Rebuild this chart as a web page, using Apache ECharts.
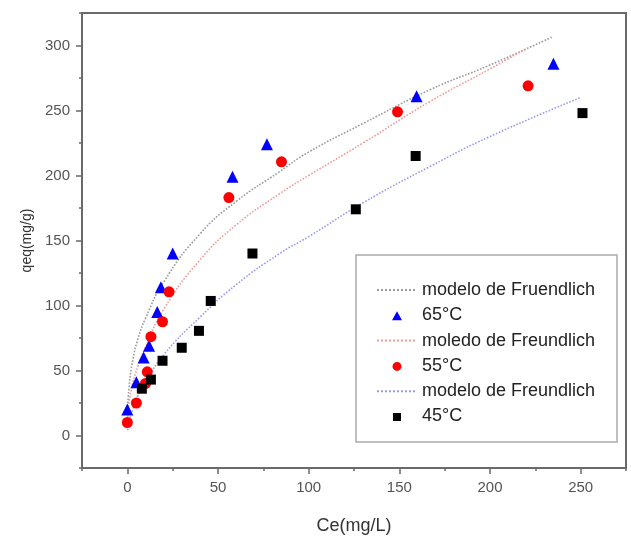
<!DOCTYPE html>
<html>
<head>
    <meta charset="UTF-8">
    <title>Freundlich</title>
    <style>
        html, body {
            margin: 0;
            padding: 0;
            background: #fff;
        }

        #chart {
            width: 631px;
            height: 536px;
        }
    </style>
    <script type="text/javascript" src="https://cdn.jsdelivr.net/npm/echarts@6/dist/echarts.min.js"></script>
</head>
<body>
<div id="chart"></div>
<script>
    // measured points (Ce, qeq)
    let data65 = [[0, 20], [5, 41], [9, 60], [12, 69], [16.5, 95], [18.5, 114], [25, 140],
        [58, 199], [77, 224], [159.5, 261], [235, 286]];
    let data55 = [[0, 10], [5, 25], [10, 40], [11, 49], [13, 76], [19.4, 87.5], [23, 110.5],
        [56, 183], [85, 210.5], [149, 249], [221, 269]];
    let data45 = [[8, 36], [13, 43], [19.4, 57.5], [30, 67.5], [39.5, 80.5], [46, 103.5],
        [69, 140], [126, 174], [159, 215], [251, 248]];

    // fitted curves
    let fit65 = [[0.2, 20], [1, 38], [3, 58], [6, 75], [10, 90], [20, 118], [40, 155], [60, 180],
        [84, 203], [100, 218], [130, 240], [167, 266], [200, 285], [235, 307]];
    let fit55 = [[0.2, 12], [1, 25], [3, 40], [6, 54], [10, 68], [20, 97], [40, 135], [60, 162],
        [84, 186], [100, 200], [130, 225], [167, 257], [200, 282], [220.5, 298]];
    let fit45 = [[0.2, 4], [1, 11], [3, 20], [6, 31], [10, 41], [20, 62], [40, 91], [60, 116],
        [84, 140], [100, 153], [130, 179], [167, 207], [200, 230], [250, 260]];

    let legendNames = ['modelo de Fruendlich', '65°C', 'moledo de Freundlich', '55°C',
        'modelo de Freundlich', '45°C'];
    let xTicks = [0, 50, 100, 150, 200, 250];
    let yTicks = [0, 50, 100, 150, 200, 250, 300];

    let chart = echarts.init(document.getElementById('chart'), null, {renderer: 'canvas'});

    let font = 'Liberation Sans, Arial, sans-serif';
    let axisGray = '#6a6a6a';

    // legend icons: 40x12 box so the marker keeps its own size
    let box = 'M0,0 L0.1,0 L0,0.1 Z M40,12 L39.9,12 L40,11.9 Z';
    let iconTri = 'path://' + box + ' M15,11 L20,2 L25,11 Z';
    let iconDot = 'path://' + box + ' M24.5,6.5 A4.5,4.5 0 1,1 15.5,6.5 A4.5,4.5 0 1,1 24.5,6.5 Z';
    let iconSq = 'path://' + box + ' M16,2.5 L24,2.5 L24,10.5 L16,10.5 Z';

    function mainAxis(pos, min, max, ticks, name, gap, nameSize) {
        return {
            type: 'value',
            position: pos,
            min: min,
            max: max,
            interval: 25,
            name: name,
            nameLocation: 'middle',
            nameGap: gap,
            nameTextStyle: {color: '#333', fontSize: nameSize, fontFamily: font},
            axisLine: {show: true, onZero: false, lineStyle: {color: axisGray, width: 2}},
            axisTick: {show: true, inside: false, length: 6, customValues: ticks,
                lineStyle: {color: axisGray, width: 1.5}},
            axisLabel: {show: true, margin: 12, customValues: ticks, color: '#555',
                fontSize: 15, fontFamily: font},
            splitLine: {show: false}
        };
    }

    function minorAxis(pos, min, max) {
        return {
            type: 'value',
            position: pos,
            min: min,
            max: max,
            interval: 25,
            axisLine: {show: false, onZero: false},
            axisTick: {show: true, length: 3, lineStyle: {color: axisGray, width: 1.5}},
            axisLabel: {show: false},
            splitLine: {show: false}
        };
    }

    function fitSeries(name, d, color) {
        return {
            name: name,
            type: 'line',
            data: d,
            smooth: true,
            symbol: 'none',
            lineStyle: {color: color, width: 1.6, type: 'dotted'},
            itemStyle: {color: color},
            z: 2
        };
    }

    function pointSeries(name, d, symbol, size, color) {
        return {
            name: name,
            type: 'scatter',
            data: d,
            symbol: symbol,
            symbolSize: size,
            itemStyle: {color: color, opacity: 1},
            z: 3
        };
    }

    let option = {
        animation: false,
        backgroundColor: '#fff',
        grid: {
            left: 82, right: 5, top: 13, bottom: 68,
            outerBoundsMode: 'none',
            show: true, borderColor: axisGray, borderWidth: 2
        },
        xAxis: [mainAxis('bottom', -25, 275, xTicks, 'Ce(mg/L)', 49, 18),
            minorAxis('bottom', -25, 275)],
        yAxis: [mainAxis('left', -25, 325, yTicks, 'qeq(mg/g)', 48, 14),
            minorAxis('left', -25, 325)],
        graphic: [{
            type: 'rect',
            shape: {x: 356, y: 255, width: 261, height: 187},
            style: {fill: '#fff', stroke: '#aaa', lineWidth: 1.5},
            z: 5
        }],
        legend: {
            orient: 'vertical',
            left: 376,
            top: 281,
            padding: 0,
            itemWidth: 40,
            itemHeight: 12,
            itemGap: 7.3,
            z: 10,
            data: [
                {name: legendNames[0], itemStyle: {opacity: 0}},
                {name: legendNames[1], icon: iconTri},
                {name: legendNames[2], itemStyle: {opacity: 0}},
                {name: legendNames[3], icon: iconDot},
                {name: legendNames[4], itemStyle: {opacity: 0}},
                {name: legendNames[5], icon: iconSq}
            ],
            textStyle: {color: '#222', fontSize: 18, fontFamily: font}
        },
        series: [
            fitSeries(legendNames[0], fit65, '#9a9a9a'),
            pointSeries(legendNames[1], data65, 'triangle', 12, '#0000ff'),
            fitSeries(legendNames[2], fit55, '#f39a9a'),
            pointSeries(legendNames[3], data55, 'circle', 11, '#ff0000'),
            fitSeries(legendNames[4], fit45, '#9a9af5'),
            pointSeries(legendNames[5], data45, 'rect', 10, '#000000')
        ]
    };
    chart.setOption(option);
</script>
</body>
</html>
